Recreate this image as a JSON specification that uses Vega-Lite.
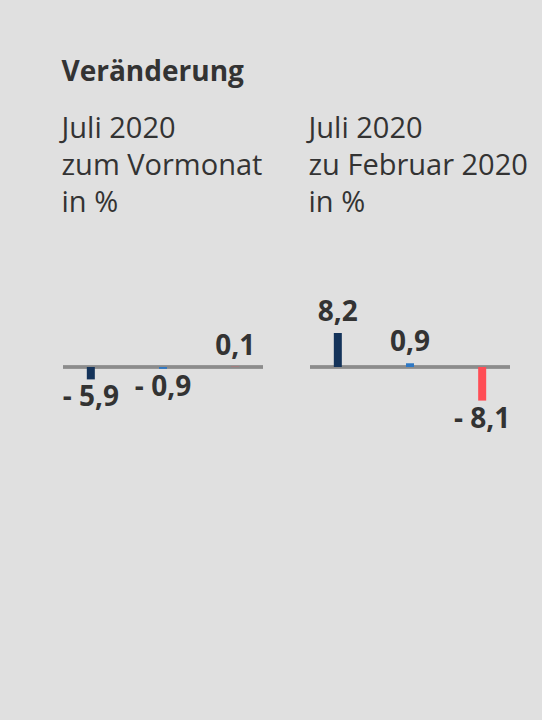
{
  "$schema": "https://vega.github.io/schema/vega-lite/v6.json",
  "background": "#e0e0e0",
  "padding": {"left": 61, "top": 59, "right": 31, "bottom": 92},
  "title": {
    "text": "Veränderung",
    "anchor": "start",
    "font": "Open Sans",
    "fontSize": 28,
    "fontWeight": "bold",
    "color": "#333333",
    "offset": 28
  },
  "data": {
    "values": [
      {"panel": "vormonat", "sector": "A", "value": -5.9, "label": "- 5,9"},
      {"panel": "vormonat", "sector": "B", "value": -0.9, "label": "- 0,9"},
      {"panel": "vormonat", "sector": "C", "value": 0.1, "label": "0,1"},
      {"panel": "februar", "sector": "A", "value": 8.2, "label": "8,2"},
      {"panel": "februar", "sector": "B", "value": 0.9, "label": "0,9"},
      {"panel": "februar", "sector": "C", "value": -8.1, "label": "- 8,1"}
    ]
  },
  "spacing": 43,
  "hconcat": [
    {
      "width": 200,
      "height": 400,
      "title": {"text": ["Juli 2020", "zum Vormonat", "in %"]},
      "transform": [{"filter": "datum.panel === 'vormonat'"}],
      "encoding": {
        "x": {"field": "sector", "type": "nominal", "axis": null,
              "scale": {"paddingInner": 0.889, "paddingOuter": 0.33}},
        "y": {"field": "value", "type": "quantitative", "axis": null,
              "scale": {"domain": [-125.24, 65.24], "nice": false, "zero": false}}
      },
      "layer": [
        {"mark": {"type": "rule", "color": "#8c8c8c", "strokeWidth": 3},
         "encoding": {"x": null, "y": {"datum": 0, "type": "quantitative"}}},
        {"mark": {"type": "bar"},
         "encoding": {"color": {"field": "sector", "type": "nominal", "legend": null,
                                 "scale": {"domain": ["A", "B", "C"], "range": ["#14335a", "#2f78c4", "#ff4d55"]}}}},
        {"transform": [{"filter": "datum.value >= 0"}],
         "mark": {"type": "text", "font": "Open Sans", "fontSize": 28, "fontWeight": "bold", "color": "#333333", "baseline": "alphabetic", "dy": -12},
         "encoding": {"text": {"field": "label"}}},
        {"transform": [{"filter": "datum.value < 0"}],
         "mark": {"type": "text", "font": "Open Sans", "fontSize": 28, "fontWeight": "bold", "color": "#333333", "baseline": "top", "dy": 5},
         "encoding": {"text": {"field": "label"}}}
      ]
    },
    {
      "width": 200,
      "height": 400,
      "title": {"text": ["Juli 2020", "zu Februar 2020", "in %"]},
      "transform": [{"filter": "datum.panel === 'februar'"}],
      "encoding": {
        "x": {"field": "sector", "type": "nominal", "axis": null,
              "scale": {"paddingInner": 0.889, "paddingOuter": 0.33}},
        "y": {"field": "value", "type": "quantitative", "axis": null,
              "scale": {"domain": [-63.39, 33.02], "nice": false, "zero": false}}
      },
      "layer": [
        {"mark": {"type": "rule", "color": "#8c8c8c", "strokeWidth": 3},
         "encoding": {"x": null, "y": {"datum": 0, "type": "quantitative"}}},
        {"mark": {"type": "bar"},
         "encoding": {"color": {"field": "sector", "type": "nominal", "legend": null,
                                 "scale": {"domain": ["A", "B", "C"], "range": ["#14335a", "#2f78c4", "#ff4d55"]}}}},
        {"transform": [{"filter": "datum.value >= 0"}],
         "mark": {"type": "text", "font": "Open Sans", "fontSize": 28, "fontWeight": "bold", "color": "#333333", "baseline": "alphabetic", "dy": -12},
         "encoding": {"text": {"field": "label"}}},
        {"transform": [{"filter": "datum.value < 0"}],
         "mark": {"type": "text", "font": "Open Sans", "fontSize": 28, "fontWeight": "bold", "color": "#333333", "baseline": "top", "dy": 5},
         "encoding": {"text": {"field": "label"}}}
      ]
    }
  ],
  "resolve": {"scale": {"y": "independent", "x": "independent"}},
  "config": {
    "view": {"stroke": null},
    "title": {"anchor": "start", "font": "Open Sans", "fontSize": 29, "fontWeight": "normal", "color": "#333333", "lineHeight": 37, "offset": 12}
  }
}
